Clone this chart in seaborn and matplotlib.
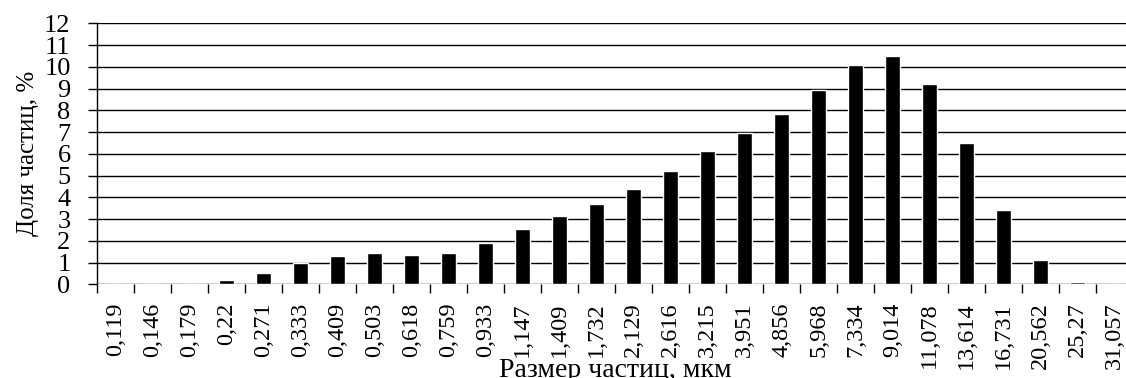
import matplotlib
matplotlib.use("Agg")
import matplotlib.pyplot as plt
import seaborn as sns
import pandas as pd
import numpy as np

# Particle size classes (µm) and their share (%)
sizes = ["0,119", "0,146", "0,179", "0,22", "0,271", "0,333", "0,409", "0,503",
         "0,618", "0,759", "0,933", "1,147", "1,409", "1,732", "2,129", "2,616",
         "3,215", "3,951", "4,856", "5,968", "7,334", "9,014", "11,078", "13,614",
         "16,731", "20,562", "25,27", "31,057"]
shares = [0.0, 0.0, 0.0, 0.18, 0.52, 0.98, 1.32, 1.45,
          1.37, 1.46, 1.88, 2.53, 3.13, 3.71, 4.36, 5.2,
          6.13, 6.97, 7.83, 8.92, 10.06, 10.5, 9.23, 6.5,
          3.42, 1.12, 0.12, 0.0]
y_ticks = list(range(0, 13))

df = pd.DataFrame({"size": sizes, "share": shares})

sns.set_theme(style="white")
plt.rcParams["font.family"] = ["Liberation Serif", "DejaVu Serif"]

fig = plt.figure(figsize=(11.26, 3.78), dpi=100)
ax = fig.add_axes([97 / 1126, 1 - 284.3 / 378, 1036 / 1126, (284.3 - 23.3) / 378])

sns.barplot(data=df, x="size", y="share", color="black", width=0.4,
            saturation=1, ax=ax, zorder=3)

ax.set_xlim(-0.5, len(sizes) - 0.5)
ax.set_ylim(0, 12)
ax.set_yticks(y_ticks)
ax.set_yticklabels([str(v) for v in y_ticks])

# horizontal grid at every integer percent
for v in y_ticks:
    ax.axhline(v, color="black", lw=1.0, zorder=1)

for side in ["top", "right", "bottom"]:
    ax.spines[side].set_visible(False)
ax.spines["left"].set_color("black")
ax.spines["left"].set_linewidth(1.0)
ax.spines["left"].set_zorder(4)

# category labels centred, tick marks on class boundaries
ax.set_xticks(np.arange(len(sizes)))
ax.set_xticklabels(sizes, rotation=90)
ax.set_xticks(np.arange(len(sizes) + 1) - 0.5, minor=True)
ax.tick_params(axis="x", which="major", length=0, pad=13, labelsize=17.5, colors="black")
ax.tick_params(axis="x", which="minor", length=6.5, width=1.0, color="black",
               direction="out", bottom=True)
ax.tick_params(axis="y", which="major", length=6.5, width=1.0, color="black",
               direction="out", left=True, pad=12.5, labelsize=19, labelcolor="black")

ax.set_xlabel("Размер частиц, мкм", fontsize=20, color="black", labelpad=-8)
ax.set_ylabel("Доля частиц, %", fontsize=18, color="black", labelpad=4)

fig.savefig("out.png", dpi=100)
